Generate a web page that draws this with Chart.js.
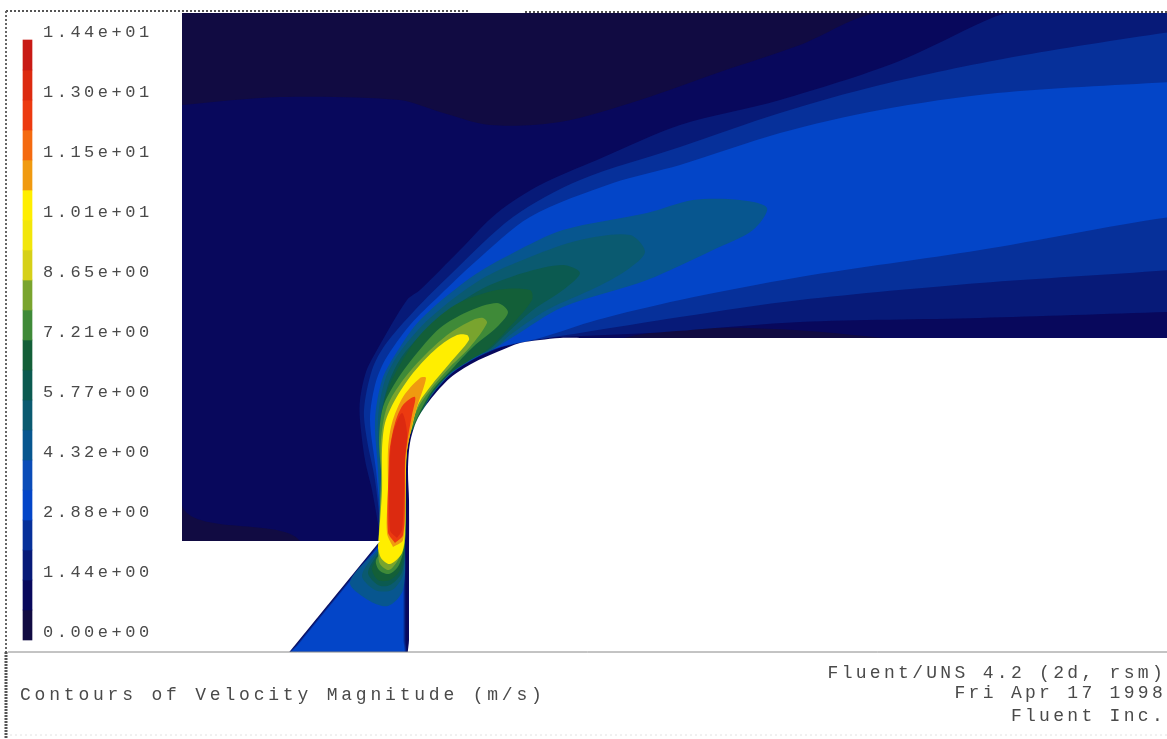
<!DOCTYPE html>
<html>
<head>
<meta charset="utf-8">
<title>Contours of Velocity Magnitude</title>
<script src="https://cdn.jsdelivr.net/npm/chart.js@4/dist/chart.umd.min.js"></script>
<style>
  html, body { margin: 0; padding: 0; background: #fff; }
  canvas { display: block; filter: blur(0.7px); }
</style>
</head>
<body>
<canvas id="contours" width="1167" height="739"></canvas>
<script>
// ---- colour bar
const tickValues = [0, 1.44, 2.88, 4.32, 5.76, 7.2, 8.64, 10.08, 11.52, 12.96, 14.4];
const tickLabels = ['0.00e+00', '1.44e+00', '2.88e+00', '4.32e+00', '5.77e+00', '7.21e+00', '8.65e+00', '1.01e+01', '1.15e+01', '1.30e+01', '1.44e+01'];
const bandEdges = [0, 0.72, 1.44, 2.16, 2.88, 3.6, 4.32, 5.04, 5.76, 6.48, 7.2, 7.92, 8.64, 9.36, 10.08, 10.8, 11.52, 12.24, 12.96, 13.68, 14.4];
const bandColors = ['#110b42', '#08085c', '#071a78', '#06309a', '#0345c8', '#0a4cb8', '#07568f', '#0a5a70', '#0b5a50', '#135f38',
  '#3f8a38', '#79a42e', '#d6d018', '#f2e60a', '#ffee00', '#f09a10', '#f46a10', '#ec3a10', '#dc2a10', '#c81a15'];

// ---- contour outlines (x, y in plot units)
const domain = [[182,13],[1170,13],[1170,652],[182,652]];
const level1 = [[182,105],[280,97],[400,100],[440,112],[490,125],[560,122],[640,100],[720,72],[800,45],[880,13],[1300,13],[1300,345],[600,345],[420,655],[290,655],[300,541],[182,505]];
const level2 = [[381,541],[372,490],[365,460],[360,420],[360,400],[366,372],[377,350],[407,300],[420,290],[460,250],[497,213],[540,185],[597,160],[680,125],[780,100],[897,62],[987,20],[1010,13],[1300,13],[1300,308],[1170,312],[980,318],[800,322],[650,333],[560,337],[520,341],[497,349],[473,360],[450,375],[430,397],[417,417],[408,441],[406,470],[405.5,520],[405.5,590],[405.5,640],[405.5,655],[380,655],[288,655],[296,645],[369.5,555]];
const level3 = [[382,541],[375,480],[367,440],[364,410],[372,370],[385,345],[415,310],[450,275],[513,217],[580,180],[680,147],[780,113],[880,85],[1013,57],[1170,32],[1300,15],[1300,258],[1170,270],[980,283],[800,300],[680,317],[580,333],[530,341],[497,348.5],[473,359.5],[450,374.5],[430,396.5],[416,416.5],[407,440],[405,470],[404.5,520],[404.5,590],[404.5,640],[404.5,655],[380,655],[289,655],[297,645],[370.5,555]];
const level4 = [[383,541],[376,470],[370,420],[375,385],[385,360],[410,325],[440,295],[475,262],[530,217],[613,183],[680,165],[780,133],[880,110],[997,93],[1170,82],[1300,76],[1300,205],[1170,217],[980,250],[800,277],[680,300],[597,320],[540,338],[497,348],[473,359],[450,374],[430,396],[415,416],[406,440],[404,470],[403.5,520],[403.5,590],[403.5,640],[403.5,655],[380,655],[290,655],[298,645],[371.5,555]];
const lobe1 = [[381,546],[378,470],[375,420],[382,380],[395,355],[420,320],[470,278],[513,253],[563,230],[647,213],[693,200],[740,200],[767,208],[753,230],[713,250],[647,280],[563,307],[513,337],[497,347],[475,358],[452,373],[432,395],[419,418],[407,441],[405.5,470],[405,541],[403,590],[388,606],[368,600],[350,582]];
const lobe2 = [[383,545],[381,480],[378,420],[385,380],[400,352],[430,318],[480,280],[530,257],[580,240],[630,235],[645,252],[627,270],[597,287],[547,310],[510,335],[495,348],[473,358],[450,373],[432,394],[420,416],[407,441],[405.5,470],[405,541],[403,575],[392,590],[375,590],[362,575]];
const lobe3 = [[384,545],[382,470],[380,425],[388,385],[403,355],[437,320],[480,290],[523,273],[563,265],[580,273],[563,290],[533,310],[505,335],[490,349],[471,359],[449,374],[431,395],[419,418],[407,443],[405.5,470],[405,541],[402,572],[390,585],[378,585],[368,572]];
const lobe4 = [[385,548],[383,470],[381,430],[386,395],[398,368],[420,335],[455,305],[497,290],[530,290],[532,300],[507,330],[488,349],[470,360],[448,375],[430,396],[418,419],[407,443],[405.5,470],[405,541],[400,570],[390,580],[378,580],[372,568]];
const lobe5 = [[386,548],[381,470],[379,440],[383,407],[397,380],[417,353],[440,328],[467,312],[497,303],[508,312],[497,327],[473,347],[452,369],[432,391],[419,414],[409,438],[405.5,470],[405,541],[399,565],[389,574],[379,570],[376,560]];
const lobe6 = [[378,552],[381,480],[381,440],[387,407],[403,380],[427,353],[450,333],[473,320],[483,318],[487,323],[470,347],[450,367],[431,389],[418,408],[410,430],[405.5,470],[405,541],[398,560],[389,570],[380,564]];
const yellowCore = [[378,548],[382,490],[382,450],[385,423],[395,400],[413,373],[437,348],[457,335],[467,335],[469,340],[450,363],[430,387],[418,405],[412,427],[407,450],[405.5,500],[405,530],[402,553],[390,564],[381,558]];
const orangeCore = [[393,547],[387,533],[388,490],[388,450],[392,423],[403,397],[420,378],[426,378],[417,407],[411,430],[406,460],[405.5,500],[403,540]];
const redOrangeCore = [[395,543],[388,532],[389,460],[390,447],[395,423],[403,405],[415,397],[412,415],[408,437],[405,460],[405,493],[403,535]];
const redCore = [[397,538],[390,530],[390,457],[393,433],[402,413],[407,432],[405,460],[404,490],[402,530]];

// ---- solid wall and blank panels (white)
const wall = [[1175,338],[1000,338],[700,338],[580,338],[560,338],[540,340],[520,343],[497,352],[473,363],[450,378],[430,400],[417,420],[410,443],[408,470],[409,500],[409,560],[409,640],[409,660],[430,660],[1175,660],[1175,640],[1175,350]];
const inletWall = [[182,541],[380,541],[288.5,653],[182,653]];
const legendPanel = [[0,0],[182,0],[182,739],[0,739]];
const titlePanel = [[0,652],[1167,652],[1167,739],[0,739]];
const topStrip = [[0,0],[1167,0],[1167,13],[0,13]];

// ---- frame lines
const frameTopA = [[6,11],[468,11]];
const frameTopB = [[525,12],[1167,12]];
const frameLeft = [[6,11],[6,652]];
const frameLeftHeavy = [[6,652],[6,739]];
const titleRule = [[8,652],[1167,652]];
const frameBottom = [[10,735],[1167,735]];

// ---- captions
const titleLeft = 'Contours of Velocity Magnitude (m/s)';
const titleRight = ['Fluent/UNS 4.2 (2d, rsm)', 'Fri Apr 17 1998', 'Fluent Inc.'];

const toPoints = (poly) => poly.map(p => ({ x: p[0], y: p[1] }));
const closed = (poly) => toPoints(poly.concat([poly[0]]));

function area(poly, color, tension) {
  return { type: 'scatter', showLine: true, data: closed(poly), backgroundColor: color, borderWidth: 0, fill: 'shape', pointRadius: 0, tension: tension };
}
function rule(line, color, width, dash) {
  return { type: 'scatter', showLine: true, data: toPoints(line), borderColor: color, borderWidth: width, borderDash: dash, fill: false, pointRadius: 0 };
}

// painted bottom to top
const layers = [
  area(domain, bandColors[0], 0),
  area(level1, bandColors[1], 0.3),
  area(level2, bandColors[2], 0.3),
  area(level3, bandColors[3], 0.3),
  area(level4, bandColors[4], 0.3),
  area(lobe1, bandColors[6], 0.3),
  area(lobe2, bandColors[7], 0.3),
  area(lobe3, bandColors[8], 0.3),
  area(lobe4, bandColors[9], 0.3),
  area(lobe5, bandColors[10], 0.3),
  area(lobe6, bandColors[11], 0.3),
  area(yellowCore, bandColors[14], 0.3),
  area(orangeCore, bandColors[15], 0.3),
  area(redOrangeCore, bandColors[17], 0.3),
  area(redCore, bandColors[18], 0.3),
  area(wall, '#ffffff', 0.3),
  area(inletWall, '#ffffff', 0),
  area(legendPanel, '#ffffff', 0),
  area(titlePanel, '#ffffff', 0),
  area(topStrip, '#ffffff', 0),
  rule(frameTopA, '#555555', 2, [2, 2]),
  rule(frameTopB, '#555555', 2, [2, 2]),
  rule(frameLeft, '#666666', 2, [2, 2]),
  rule(frameLeftHeavy, '#555555', 3, [2, 1]),
  rule(titleRule, '#888888', 1, []),
  rule(frameBottom, '#e2e2e2', 1, [2, 3])
];

const colorBar = {
  type: 'bar',
  xAxisID: 'x',
  yAxisID: 'v',
  data: bandColors.map((c, i) => ({ x: 27.5, y: [bandEdges[i], bandEdges[i + 1]] })),
  backgroundColor: bandColors,
  barThickness: 9,
  grouped: false,
  borderWidth: 0
};

// letter spacing for the wide plotter lettering, captions through the plot scales
const lettering = {
  id: 'lettering',
  beforeDraw(chart) {
    chart.ctx.letterSpacing = '3.5px';
  },
  afterDraw(chart) {
    const { ctx, scales } = chart;
    ctx.save();
    ctx.fillStyle = '#4a4a4a';
    ctx.textBaseline = 'middle';
    ctx.font = '18px "Liberation Mono"';
    ctx.letterSpacing = '3.8px';
    ctx.textAlign = 'left';
    ctx.fillText(titleLeft, scales.x.getPixelForValue(20), scales.y.getPixelForValue(695));
    ctx.letterSpacing = '3.3px';
    ctx.textAlign = 'right';
    const rows = [673, 693, 716];
    titleRight.forEach((t, i) => {
      ctx.fillText(t, scales.x.getPixelForValue(1166), scales.y.getPixelForValue(rows[i]));
    });
    ctx.restore();
  }
};

new Chart(document.getElementById('contours'), {
  data: {
    datasets: [colorBar].concat(layers.slice().reverse())
  },
  plugins: [lettering],
  options: {
    responsive: false,
    animation: false,
    events: [],
    layout: { padding: 0 },
    plugins: { legend: { display: false }, tooltip: { enabled: false } },
    scales: {
      // bar datasets switch offset on by default, that would inset the whole plot
      x: { type: 'linear', min: 0, max: 1167, offset: false, display: false },
      y: { type: 'linear', min: 0, max: 739, reverse: true, display: false },
      v: {
        type: 'linear',
        axis: 'y',
        min: -2.376,
        max: 15.36,
        position: 'left',
        grid: { display: false, drawTicks: false, tickLength: 0 },
        border: { display: false },
        afterBuildTicks(scale) {
          scale.ticks = tickValues.map(value => ({ value: value }));
        },
        afterFit(scale) {
          scale.width = 0;
          scale.paddingLeft = scale.paddingRight = scale.paddingTop = scale.paddingBottom = 0;
        },
        ticks: {
          z: 1,
          mirror: true,
          autoSkip: false,
          padding: 43,
          labelOffset: -7.5,
          color: '#4a4a4a',
          font: { family: '"Liberation Mono"', size: 17 },
          callback(value) {
            return tickLabels[tickValues.indexOf(value)];
          }
        }
      }
    }
  }
});
</script>
</body>
</html>
